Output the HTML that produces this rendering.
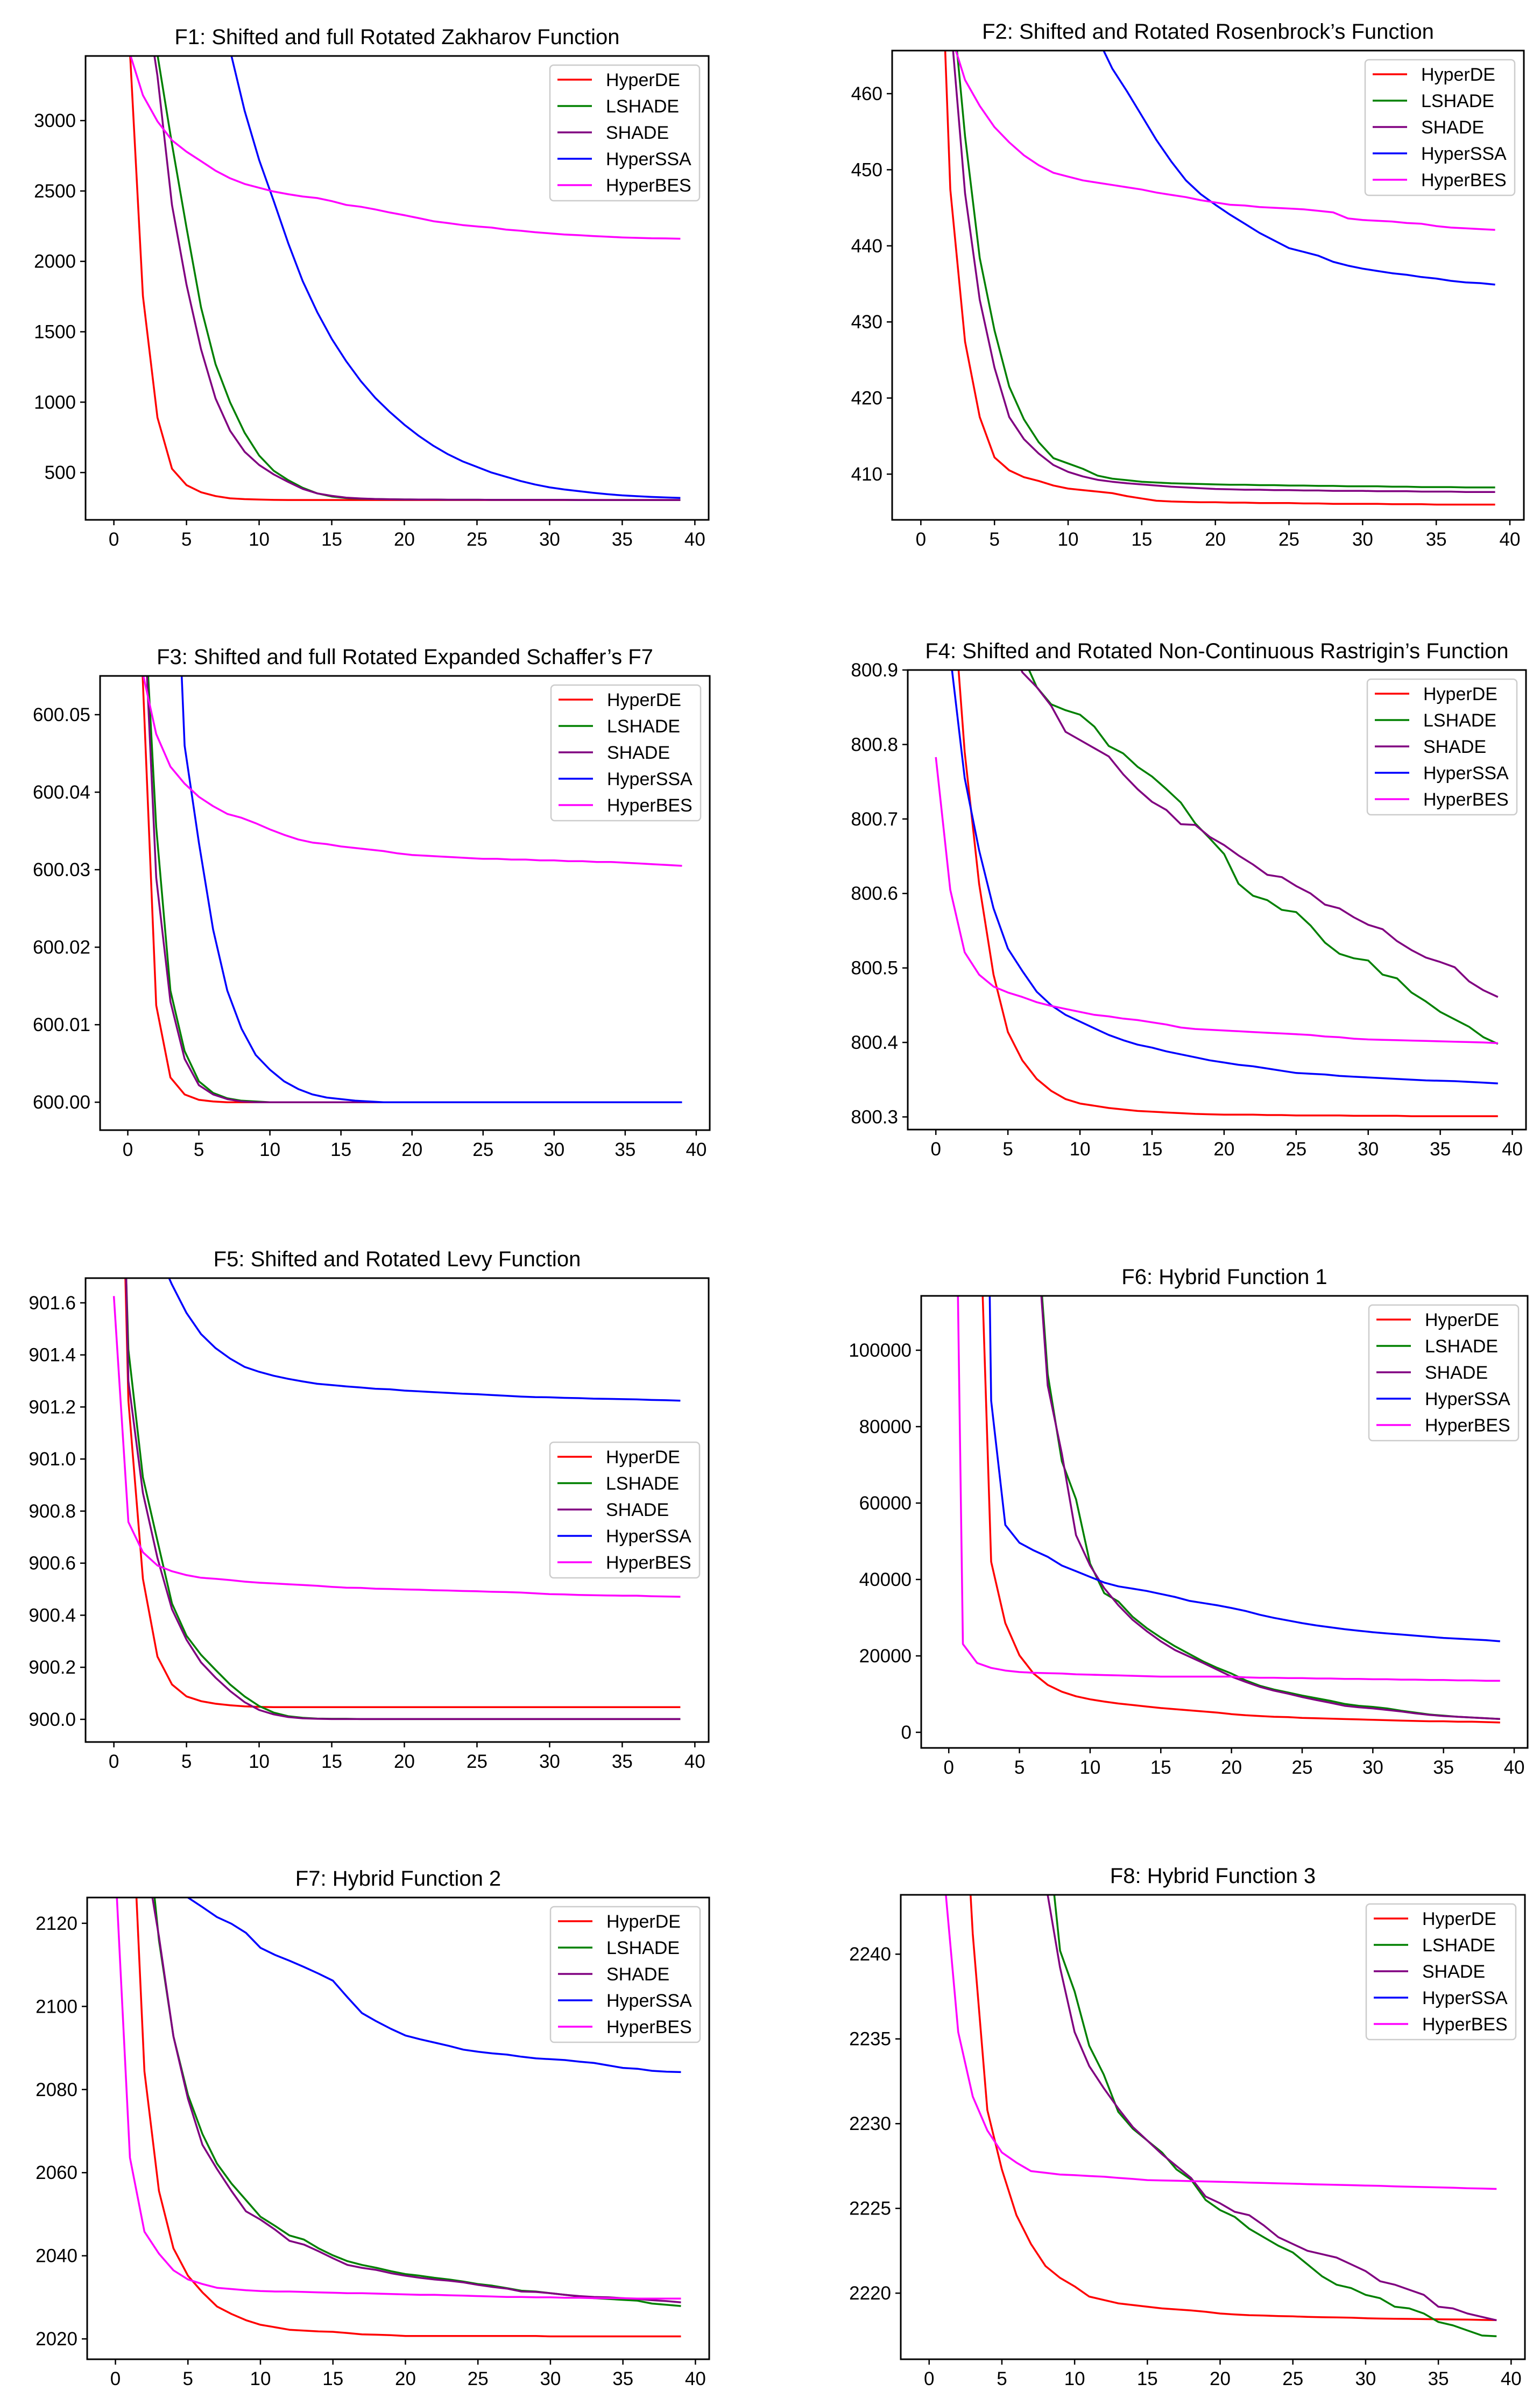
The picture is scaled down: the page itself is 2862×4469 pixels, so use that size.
<!DOCTYPE html>
<html>
<head>
<meta charset="utf-8">
<style>
  html, body { margin:0; padding:0; background:#ffffff; }
  svg { display:block; }
  text { font-family: "Liberation Sans", "DejaVu Sans", sans-serif; fill:#000; }
</style>
</head>
<body>
<svg id="fig" xmlns="http://www.w3.org/2000/svg" width="2862" height="4469" viewBox="0 0 2862 4469">
  <rect x="0" y="0" width="2862" height="4469" fill="#ffffff"/>
</svg>
<script>
// ---------- shared data ----------
const seriesNames = ["HyperDE", "LSHADE", "SHADE", "HyperSSA", "HyperBES"];
const seriesColors = ["#ff0000", "#008000", "#800080", "#0000ff", "#ff00ff"];
const xTicks = [0, 5, 10, 15, 20, 25, 30, 35, 40];

// ---------- F1 ----------
const f1_yticks = [500, 1000, 1500, 2000, 2500, 3000];
const f1_hyperde = [6000,3700,1754,891,527,411,360,333,317,311, 308,306,305,305,305,305,305,305,305,305, 305,305,305,305,305,305,305,305,305,305, 305,305,305,305,305,305,305,305,305,305];
const f1_lshade = [9000,7000,5000,3470,2833,2240,1673,1269,999,783, 621,513,446,392,352,330,319,314,312,310, 309,308,308,307,307,307,306,306,306,306, 306,306,305,305,305,305,305,305,305,305];
const f1_shade = [8500,6000,4000,3318,2401,1835,1376,1026,797,648, 554,487,433,384,352,335,322,316,312,310, 309,308,308,307,307,307,306,306,306,306, 306,306,305,305,305,305,305,305,305,305];
const f1_hyperssa = [9200,8400,7600,6800,6000,5300,4600,4000,3500,3070, 2720,2430,2130,1860,1640,1450,1290,1150,1030,930, 840,760,690,630,580,540,500,470,440,415, 395,380,368,356,346,338,332,327,323,320];
const f1_hyperbes = [4500,3510,3180,2995,2860,2779,2712,2644,2590,2550, 2523,2496,2477,2461,2450,2428,2401,2388,2369,2347, 2328,2307,2285,2272,2258,2248,2240,2226,2218,2207, 2199,2191,2186,2180,2175,2170,2167,2164,2163,2161];

// ---------- F2 ----------
const f2_yticks = [410, 420, 430, 440, 450, 460];
const f2_hyperde = [600,500,447.4,427.4,417.5,412.2,410.5,409.6,409.1,408.5, 408.1,407.9,407.7,407.5,407.1,406.8,406.5,406.4,406.35,406.3, 406.3,406.25,406.25,406.2,406.2,406.2,406.15,406.15,406.1,406.1, 406.1,406.1,406.05,406.05,406.05,406.0,406.0,406.0,406.0,406.0];
const f2_lshade = [600,520,475,454.4,438.4,428.9,421.5,417.2,414.2,412.1, 411.4,410.7,409.8,409.4,409.2,409.0,408.9,408.8,408.75,408.7, 408.65,408.6,408.6,408.55,408.55,408.5,408.5,408.45,408.45,408.4, 408.4,408.4,408.35,408.35,408.3,408.3,408.3,408.25,408.25,408.25];
const f2_shade = [590,510,470,446.9,432.9,424.0,417.5,414.6,412.7,411.2, 410.3,409.7,409.25,409.0,408.8,408.65,408.5,408.35,408.25,408.15, 408.05,408.0,407.95,407.95,407.9,407.9,407.85,407.85,407.8,407.8, 407.8,407.75,407.75,407.75,407.7,407.7,407.7,407.65,407.65,407.65];
const f2_hyperssa = [700,650,610,580,555,535,515,500,488,478, 472,468,467.3,463.3,460.3,457.1,453.9,451.1,448.6,446.8, 445.4,444.1,442.9,441.7,440.7,439.7,439.2,438.7,437.9,437.4, 437.0,436.7,436.4,436.2,435.9,435.7,435.4,435.2,435.1,434.9];
const f2_hyperbes = [520,490,468,461.8,458.4,455.6,453.6,451.9,450.6,449.6, 449.1,448.6,448.3,448.0,447.7,447.4,447.0,446.7,446.4,446.0, 445.7,445.4,445.3,445.1,445.0,444.9,444.8,444.6,444.4,443.6, 443.4,443.3,443.2,443.0,442.9,442.6,442.4,442.3,442.2,442.1];

// ---------- F3 ----------
const f3_yticks = [600.00, 600.01, 600.02, 600.03, 600.04, 600.05];
const f3_hyperde = [600.3,600.057,600.0125,600.0032,600.001,600.0003,600.0001,600,600,600, 600,600,600,600,600,600,600,600,600,600, 600,600,600,600,600,600,600,600,600,600, 600,600,600,600,600,600,600,600,600,600];
const f3_lshade = [600.3,600.07,600.0355,600.0144,600.0066,600.0027,600.0012,600.0005,600.0002,600.0001, 600,600,600,600,600,600,600,600,600,600, 600,600,600,600,600,600,600,600,600,600, 600,600,600,600,600,600,600,600,600,600];
const f3_shade = [600.3,600.069,600.029,600.013,600.0056,600.0022,600.001,600.0004,600.0001,600, 600,600,600,600,600,600,600,600,600,600, 600,600,600,600,600,600,600,600,600,600, 600,600,600,600,600,600,600,600,600,600];
const f3_hyperssa = [600.2,600.15,600.12,600.09,600.046,600.0335,600.0223,600.0144,600.0095,600.0061, 600.0042,600.0027,600.0017,600.001,600.0006,600.0004,600.0002,600.0001,600,600, 600,600,600,600,600,600,600,600,600,600, 600,600,600,600,600,600,600,600,600,600];
const f3_hyperbes = [600.15,600.0558,600.0475,600.0433,600.0411,600.0394,600.0382,600.0372,600.0367,600.036, 600.0352,600.0345,600.0339,600.0335,600.0333,600.033,600.0328,600.0326,600.0324,600.0321, 600.0319,600.0318,600.0317,600.0316,600.0315,600.0314,600.0314,600.0313,600.0313,600.0312, 600.0312,600.0311,600.0311,600.031,600.031,600.0309,600.0308,600.0307,600.0306,600.0305];

// ---------- F4 ----------
const f4_yticks = [800.3, 800.4, 800.5, 800.6, 800.7, 800.8, 800.9];
const f4_hyperde = [801.8,801.05,800.79,800.613,800.491,800.414,800.376,800.351,800.335,800.324, 800.318,800.315,800.312,800.31,800.308,800.307,800.306,800.305,800.304,800.3035, 800.303,800.303,800.303,800.3025,800.3025,800.302,800.302,800.302,800.302,800.3015, 800.3015,800.3015,800.3015,800.301,800.301,800.301,800.301,800.301,800.301,800.301];
const f4_lshade = [801.8,801.6,801.4,801.2,801.05,800.98,800.92,800.877,800.854,800.846, 800.840,800.824,800.798,800.788,800.770,800.757,800.740,800.722,800.694,800.674, 800.653,800.613,800.597,800.591,800.578,800.575,800.557,800.534,800.519,800.513, 800.510,800.491,800.486,800.467,800.455,800.441,800.431,800.421,800.407,800.398];
const f4_shade = [801.7,801.5,801.3,801.15,801.03,800.95,800.897,800.877,800.852,800.817, 800.806,800.795,800.784,800.76,800.74,800.723,800.712,800.693,800.692,800.676, 800.665,800.651,800.639,800.625,800.622,800.610,800.600,800.585,800.580,800.568, 800.558,800.552,800.536,800.524,800.514,800.508,800.501,800.482,800.47,800.461];
const f4_hyperssa = [801.3,800.92,800.755,800.658,800.58,800.526,800.496,800.468,800.45,800.437, 800.428,800.419,800.41,800.403,800.397,800.393,800.388,800.384,800.38,800.376, 800.373,800.37,800.368,800.365,800.362,800.359,800.358,800.357,800.355,800.354, 800.353,800.352,800.351,800.35,800.349,800.3485,800.348,800.347,800.346,800.345];
const f4_hyperbes = [800.783,800.605,800.521,800.491,800.475,800.467,800.461,800.454,800.449,800.445, 800.441,800.437,800.435,800.432,800.43,800.427,800.424,800.42,800.418,800.417, 800.416,800.415,800.414,800.413,800.412,800.411,800.41,800.408,800.407,800.405, 800.404,800.4035,800.403,800.4025,800.402,800.4015,800.401,800.4005,800.4,800.399];

// ---------- F5 ----------
const f5_yticks = [900.0, 900.2, 900.4, 900.6, 900.8, 901.0, 901.2, 901.4, 901.6];
const f5_hyperde = [903.5,901.225,900.54,900.241,900.134,900.088,900.07,900.06,900.054,900.05, 900.048,900.047,900.047,900.047,900.047,900.047,900.047,900.047,900.047,900.047, 900.047,900.047,900.047,900.047,900.047,900.047,900.047,900.047,900.047,900.047, 900.047,900.047,900.047,900.047,900.047,900.047,900.047,900.047,900.047,900.047];
const f5_lshade = [903.25,901.42,900.93,900.686,900.445,900.321,900.248,900.19,900.134,900.088, 900.051,900.026,900.012,900.006,900.003,900.002,900.002,900.001,900.001,900.001, 900.001,900.001,900.001,900.001,900.001,900.001,900.001,900.001,900.001,900.001, 900.001,900.001,900.001,900.001,900.001,900.001,900.001,900.001,900.001,900.001];
const f5_shade = [903.93,901.3,900.87,900.62,900.423,900.306,900.219,900.16,900.109,900.066, 900.036,900.019,900.009,900.004,900.002,900.001,900.001,900.001,900.001,900.001, 900.001,900.001,900.001,900.001,900.001,900.001,900.001,900.001,900.001,900.001, 900.001,900.001,900.001,900.001,900.001,900.001,900.001,900.001,900.001,900.001];
const f5_hyperssa = [902.6,902.3,902.0,901.795,901.67,901.561,901.48,901.426,901.386,901.354, 901.335,901.32,901.308,901.298,901.289,901.284,901.279,901.275,901.27,901.268, 901.263,901.26,901.257,901.254,901.251,901.249,901.246,901.243,901.24,901.238, 901.237,901.235,901.234,901.232,901.231,901.23,901.229,901.227,901.226,901.224];
const f5_hyperbes = [901.626,900.758,900.642,900.591,900.569,900.554,900.544,900.54,900.535,900.529, 900.525,900.522,900.519,900.516,900.513,900.509,900.506,900.505,900.502,900.501, 900.499,900.498,900.496,900.495,900.493,900.492,900.49,900.489,900.487,900.484, 900.481,900.48,900.478,900.477,900.476,900.475,900.475,900.473,900.472,900.471];

// ---------- F6 ----------
const f6_yticks = [0, 20000, 40000, 60000, 80000, 100000];
const f6_hyperde = [400000,250000,160600,44643,28571,20139,15377,12401,10615,9425, 8631,8036,7540,7143,6746,6349,6052,5754,5456,5159, 4762,4464,4266,4067,3968,3770,3670,3571,3470,3373, 3270,3175,3075,2976,2880,2880,2778,2778,2680,2579];
const f6_lshade = [600000,450000,350000,280000,220000,180000,145000,93750,70933,61012, 44147,36409,34226,30258,27282,24802,22520,20536,18552,16865, 15377,13591,12202,11210,10417,9623,8929,8234,7440,6944, 6647,6250,5655,5159,4663,4365,4067,3869,3671,3472];
const f6_shade = [600000,450000,350000,280000,220000,180000,142900,90774,72917,51587, 43651,37698,33234,29464,26488,23810,21528,19841,18155,16369, 14583,13194,11905,10913,10119,9226,8433,7738,6944,6548, 6250,5853,5456,4960,4563,4266,4067,3869,3671,3472];
const f6_hyperssa = [600000,450000,361000,86806,54266,49603,47619,45933,43651,42163, 40675,39187,38194,37599,37004,36210,35417,34425,33829,33234, 32540,31746,30754,29960,29266,28571,27976,27480,26984,26587, 26190,25893,25595,25298,25000,24702,24504,24306,24107,23810];
const f6_hyperbes = [283000,23115,18155,16865,16171,15774,15575,15476,15377,15179, 15079,14980,14881,14782,14683,14583,14583,14583,14583,14583, 14583,14385,14286,14286,14187,14187,14087,14087,13988,13988, 13889,13889,13790,13790,13690,13690,13591,13591,13492,13492];

// ---------- F7 ----------
const f7_yticks = [2020, 2040, 2060, 2080, 2100, 2120];
const f7_hyperde = [2250,2160.4,2084.4,2055.6,2041.8,2035.2,2031.2,2027.8,2026.0,2024.5, 2023.4,2022.8,2022.2,2022.0,2021.8,2021.7,2021.4,2021.1,2021.0,2020.9, 2020.7,2020.7,2020.7,2020.7,2020.7,2020.7,2020.7,2020.7,2020.7,2020.7, 2020.6,2020.6,2020.6,2020.6,2020.6,2020.6,2020.6,2020.6,2020.6,2020.6];
const f7_lshade = [2300,2210,2150.2,2115.9,2092.8,2078.7,2069.3,2062.2,2057.4,2053.4, 2049.4,2047.2,2044.9,2043.9,2041.8,2040.1,2038.7,2037.8,2037.1,2036.3, 2035.6,2035.2,2034.7,2034.3,2033.8,2033.2,2032.8,2032.2,2031.6,2031.4, 2031.0,2030.6,2030.2,2029.8,2029.6,2029.4,2029.2,2028.5,2028.2,2027.9];
const f7_shade = [2280,2200,2137.7,2116.8,2092.8,2077.8,2066.7,2060.9,2055.6,2050.7, 2048.7,2046.3,2043.6,2042.7,2041.1,2039.4,2037.8,2037.1,2036.6,2035.8, 2035.2,2034.7,2034.3,2034.0,2033.6,2033.0,2032.5,2032.1,2031.4,2031.3, 2031.0,2030.6,2030.3,2030.1,2030.0,2029.8,2029.6,2029.3,2029.1,2028.8];
const f7_hyperssa = [2150,2145,2140,2135,2130,2126.2,2123.9,2121.5,2119.9,2117.7, 2114.1,2112.4,2111.0,2109.5,2107.9,2106.2,2102.2,2098.4,2096.4,2094.6, 2093.0,2092.1,2091.3,2090.5,2089.6,2089.1,2088.7,2088.4,2087.9,2087.5, 2087.3,2087.1,2086.7,2086.4,2085.8,2085.2,2085.0,2084.5,2084.3,2084.2];
const f7_hyperbes = [2133.2,2063.6,2045.8,2040.5,2036.5,2034.3,2033.2,2032.3,2032.0,2031.7, 2031.5,2031.4,2031.4,2031.3,2031.2,2031.1,2031.0,2031.0,2030.9,2030.8, 2030.7,2030.6,2030.6,2030.5,2030.4,2030.3,2030.2,2030.1,2030.1,2030.0, 2030.0,2029.9,2029.9,2029.8,2029.8,2029.8,2029.7,2029.7,2029.7,2029.7];

// ---------- F8 ----------
const f8_yticks = [2220, 2225, 2230, 2235, 2240];
const f8_hyperde = [2300,2280,2256.5,2241.2,2230.8,2227.3,2224.6,2222.9,2221.6,2220.9, 2220.4,2219.8,2219.6,2219.4,2219.3,2219.2,2219.1,2219.04,2218.98,2218.9, 2218.8,2218.74,2218.7,2218.68,2218.65,2218.63,2218.6,2218.58,2218.57,2218.55, 2218.52,2218.5,2218.49,2218.48,2218.47,2218.46,2218.45,2218.44,2218.42,2218.41];
const f8_lshade = [2320,2300,2285,2272,2263,2257,2253,2250.5,2248.45,2240.2, 2237.8,2234.6,2232.9,2230.7,2229.7,2229.0,2228.3,2227.3,2226.7,2225.5, 2224.9,2224.5,2223.8,2223.3,2222.8,2222.4,2221.7,2221.0,2220.5,2220.3, 2219.9,2219.7,2219.2,2219.1,2218.8,2218.3,2218.1,2217.8,2217.5,2217.46];
const f8_shade = [2310,2290,2275,2265,2258,2252,2248,2246,2244.26,2239.2, 2235.4,2233.4,2232.1,2230.9,2229.8,2229.0,2228.2,2227.5,2226.8,2225.7, 2225.3,2224.8,2224.6,2224.0,2223.3,2222.9,2222.5,2222.3,2222.1,2221.7, 2221.3,2220.7,2220.5,2220.2,2219.9,2219.2,2219.1,2218.8,2218.6,2218.4];
const f8_hyperssa = [2330,2326,2322,2318,2314,2310,2306,2302,2299,2296, 2293,2290,2287,2285,2283,2281,2279,2277,2275,2273, 2272,2271,2270,2269,2268,2267,2266,2265,2264,2263, 2262,2261,2261,2260,2260,2259,2259,2258,2258,2258];
const f8_hyperbes = [2262,2244.93,2235.4,2231.6,2229.6,2228.3,2227.7,2227.2,2227.1,2227.0, 2226.96,2226.91,2226.87,2226.8,2226.74,2226.67,2226.65,2226.63,2226.61,2226.59, 2226.57,2226.55,2226.52,2226.5,2226.48,2226.46,2226.43,2226.41,2226.39,2226.37, 2226.35,2226.33,2226.3,2226.28,2226.26,2226.24,2226.22,2226.19,2226.17,2226.15];

// ---------- layout (not data) ----------
const panels = [
  {key:'f1', title:'F1: Shifted and full Rotated Zakharov Function', box:[159,104,1317,966], ylim:[164,3459], yticks:f1_yticks, dec:0, series:[f1_hyperde,f1_lshade,f1_shade,f1_hyperssa,f1_hyperbes], legend:'ur'},
  {key:'f2', title:'F2: Shifted and Rotated Rosenbrock\u2019s Function', box:[1658,94,2832,966], ylim:[403.99,465.66], yticks:f2_yticks, dec:0, series:[f2_hyperde,f2_lshade,f2_shade,f2_hyperssa,f2_hyperbes], legend:'ur'},
  {key:'f3', title:'F3: Shifted and full Rotated Expanded Schaffer\u2019s F7', box:[186,1256,1319,2100], ylim:[599.9964,600.055], yticks:f3_yticks, dec:2, series:[f3_hyperde,f3_lshade,f3_shade,f3_hyperssa,f3_hyperbes], legend:'ur'},
  {key:'f4', title:'F4: Shifted and Rotated Non-Continuous Rastrigin\u2019s Function', box:[1687,1245,2836,2099], ylim:[800.283,800.9], yticks:f4_yticks, dec:1, series:[f4_hyperde,f4_lshade,f4_shade,f4_hyperssa,f4_hyperbes], legend:'ur'},
  {key:'f5', title:'F5: Shifted and Rotated Levy Function', box:[159,2375,1317,3237], ylim:[899.913,901.695], yticks:f5_yticks, dec:1, series:[f5_hyperde,f5_lshade,f5_shade,f5_hyperssa,f5_hyperbes], legend:'cr'},
  {key:'f6', title:'F6: Hybrid Function 1', box:[1712,2408,2839,3248], ylim:[-4085,114225], yticks:f6_yticks, dec:0, series:[f6_hyperde,f6_lshade,f6_shade,f6_hyperssa,f6_hyperbes], legend:'ur'},
  {key:'f7', title:'F7: Hybrid Function 2', box:[162,3526,1318,4384], ylim:[2015.1,2126.2], yticks:f7_yticks, dec:0, series:[f7_hyperde,f7_lshade,f7_shade,f7_hyperssa,f7_hyperbes], legend:'ur'},
  {key:'f8', title:'F8: Hybrid Function 3', box:[1674,3521,2834,4384], ylim:[2216.1,2243.5], yticks:f8_yticks, dec:0, series:[f8_hyperde,f8_lshade,f8_shade,f8_hyperssa,f8_hyperbes], legend:'ur'}
];

const NS = 'http://www.w3.org/2000/svg';
const svg = document.getElementById('fig');
function mk(tag, attrs, parent) {
  const e = document.createElementNS(NS, tag);
  for (const k in attrs) e.setAttribute(k, attrs[k]);
  parent.appendChild(e);
  return e;
}

const XMIN = -1.95, XMAX = 40.95;

panels.forEach(function(p) {
  const [L, T, R, B] = p.box;
  const xs = function(v) { return L + (v - XMIN) / (XMAX - XMIN) * (R - L); };
  const ys = function(v) { return T + (p.ylim[1] - v) / (p.ylim[1] - p.ylim[0]) * (B - T); };

  const g = mk('g', {}, svg);
  
  

  const cp = mk('clipPath', {id: 'clip-' + p.key}, g);
  mk('rect', {x: L, y: T, width: R - L, height: B - T}, cp);

  const title = mk('text', {x: (L + R) / 2, y: T - 22, 'text-anchor': 'middle', 'font-size': 40}, g);
  title.textContent = p.title;
  
  

  xTicks.forEach(function(t) {
    const x = xs(t);
    mk('line', {x1: x, y1: B, x2: x, y2: B + 10, stroke: '#000', 'stroke-width': 2.5}, g);
    const lbl = mk('text', {x: x, y: B + 48, 'text-anchor': 'middle', 'font-size': 35}, g);
    lbl.textContent = String(t);
    
    
  });

  p.yticks.forEach(function(t) {
    const y = ys(t);
    mk('line', {x1: L - 10, y1: y, x2: L, y2: y, stroke: '#000', 'stroke-width': 2.5}, g);
    const lbl = mk('text', {x: L - 18, y: y + 12, 'text-anchor': 'end', 'font-size': 35}, g);
    lbl.textContent = t.toFixed(p.dec);
    
    
  });

  const lines = mk('g', {'clip-path': 'url(#clip-' + p.key + ')'}, g);
  p.series.forEach(function(vals, si) {
    let d = '';
    vals.forEach(function(v, i) {
      d += (i === 0 ? 'M' : 'L') + xs(i).toFixed(1) + ',' + ys(v).toFixed(1) + ' ';
    });
    const path = mk('path', {d: d, fill: 'none', stroke: seriesColors[si], 'stroke-width': 3.5, 'stroke-linejoin': 'round'}, lines);
    
    
  });

  const frame = mk('rect', {x: L, y: T, width: R - L, height: B - T, fill: 'none', stroke: '#000', 'stroke-width': 3}, g);
  
  

  const LW = 278, LH = 252;
  const lx = R - 17 - LW;
  const ly = p.legend === 'cr' ? (T + B) / 2 - LH / 2 : T + 17;
  const lg = mk('g', {}, g);
  
  
  mk('rect', {x: lx, y: ly, width: LW, height: LH, rx: 7, fill: '#ffffff', 'fill-opacity': 0.8, stroke: '#cccccc', 'stroke-width': 2.5}, lg);
  seriesNames.forEach(function(nm, si) {
    const cy = ly + 27 + si * 49;
    const entry = mk('g', {}, lg);
    
    
    mk('line', {x1: lx + 14, y1: cy, x2: lx + 78, y2: cy, stroke: seriesColors[si], 'stroke-width': 3.5}, entry);
    const t = mk('text', {x: lx + 104, y: cy + 12, 'font-size': 34}, entry);
    t.textContent = nm;
  });
});
</script>
</body>
</html>
